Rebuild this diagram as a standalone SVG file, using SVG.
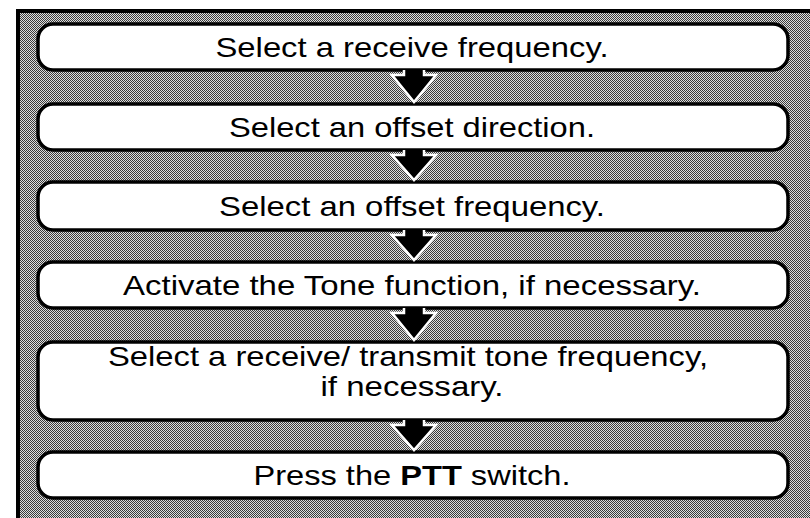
<svg xmlns="http://www.w3.org/2000/svg" width="810" height="518" viewBox="0 0 810 518">
<defs>
<pattern id="dots" width="2" height="2" patternUnits="userSpaceOnUse">
<rect width="2" height="2" fill="#dedede"/>
<rect x="0" y="0" width="1" height="1" fill="#3a3a3a"/>
<rect x="1" y="1" width="1" height="1" fill="#3a3a3a"/>
</pattern>
<style>
.box{fill:#fff;stroke:#000;stroke-width:3.5}
.t{font-family:"Liberation Sans",Arial,sans-serif;font-size:28px;fill:#000;text-anchor:middle}
.b{font-weight:bold}
.arr{fill:#000;stroke:#fff;stroke-width:2.5;stroke-linejoin:miter}
</style>
</defs>
<rect x="0" y="0" width="810" height="518" fill="#fff"/>
<rect x="18" y="11" width="800" height="520" fill="url(#dots)" stroke="#000" stroke-width="4"/>
<g id="node1"><rect class="box" x="38" y="24" width="750" height="46" rx="15"/><text class="t" x="412" y="57" textLength="393" lengthAdjust="spacingAndGlyphs">Select a receive frequency.</text></g>
<g id="node2"><rect class="box" x="38" y="104" width="750" height="46" rx="15"/><text class="t" x="412" y="137" textLength="366" lengthAdjust="spacingAndGlyphs">Select an offset direction.</text></g>
<g id="node3"><rect class="box" x="38" y="182" width="750" height="48" rx="15"/><text class="t" x="412" y="216" textLength="386" lengthAdjust="spacingAndGlyphs">Select an offset frequency.</text></g>
<g id="node4"><rect class="box" x="38" y="262" width="750" height="46" rx="15"/><text class="t" x="412" y="295" textLength="578" lengthAdjust="spacingAndGlyphs">Activate the Tone function, if necessary.</text></g>
<g id="node5"><rect class="box" x="38" y="342" width="750" height="78" rx="15"/><text class="t" x="408" y="366" textLength="600" lengthAdjust="spacingAndGlyphs">Select a receive/ transmit tone frequency,</text><text class="t" x="412" y="396" textLength="183" lengthAdjust="spacingAndGlyphs">if necessary.</text></g>
<g id="node6"><rect class="box" x="38" y="452" width="750" height="46" rx="15"/><text class="t" x="412" y="485" textLength="317" lengthAdjust="spacingAndGlyphs">Press the <tspan class="b">PTT</tspan> switch.</text></g>
<g id="connectors">
<path class="arr" d="M404,70 L404,75 L392,75 L414,102 L436,75 L424,75 L424,70"/>
<path class="arr" d="M404,150 L404,155 L392,155 L414,180 L436,155 L424,155 L424,150"/>
<path class="arr" d="M404,230 L404,235 L392,235 L414,260 L436,235 L424,235 L424,230"/>
<path class="arr" d="M404,308 L404,313 L392,313 L414,340 L436,313 L424,313 L424,308"/>
<path class="arr" d="M404,420 L404,425 L392,425 L414,450 L436,425 L424,425 L424,420"/>
</g>
</svg>
